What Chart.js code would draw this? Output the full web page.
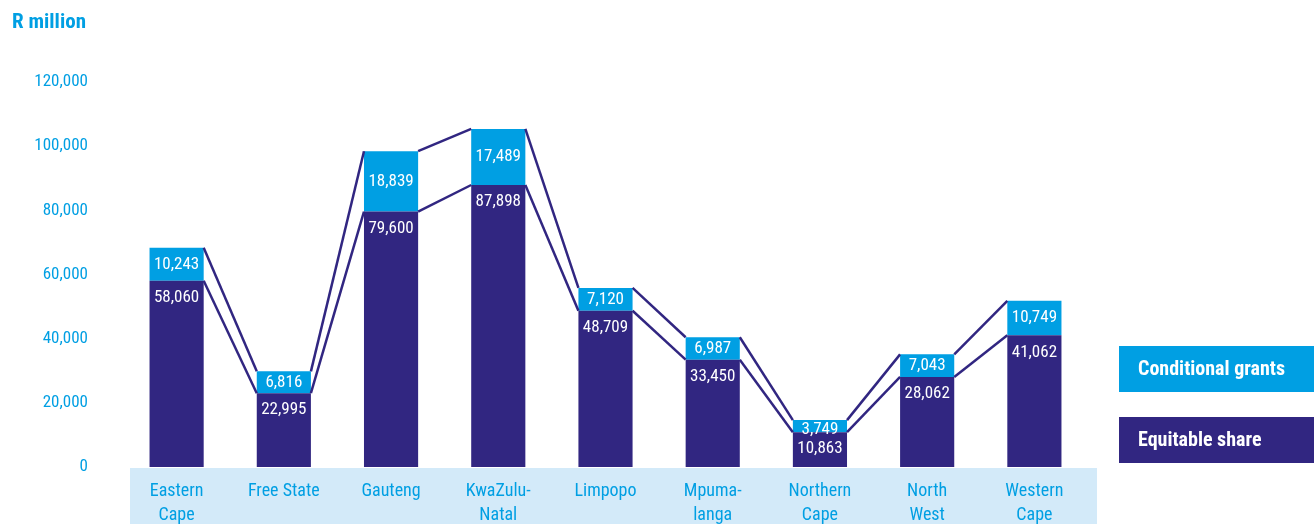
<!DOCTYPE html>
<html>
<head>
<meta charset="utf-8">
<script src="https://cdn.jsdelivr.net/npm/chart.js@4.4.0/dist/chart.umd.min.js"></script>
<style>
  html, body { margin: 0; padding: 0; background: #fff; }
  #wrap { width: 1314px; height: 524px; position: relative; }
</style>
</head>
<body>
<div id="wrap"><canvas id="provChart" width="1314" height="524"></canvas></div>
<script>
// data (R million)
const provinces = [['Eastern', 'Cape'], 'Free State', 'Gauteng', ['KwaZulu-', 'Natal'], 'Limpopo',
    ['Mpuma-', 'langa'], ['Northern', 'Cape'], ['North', 'West'], ['Western', 'Cape']];
const equitableShare = [58060, 22995, 79600, 87898, 48709, 33450, 10863, 28062, 41062];
const conditionalGrants = [10243, 6816, 18839, 17489, 7120, 6987, 3749, 7043, 10749];
const yTicks = [0, 20000, 40000, 60000, 80000, 100000, 120000];

const DARK = '#312681';
const LIGHT = '#009fe3';
const BAND = '#d3eaf9';
const FONT = "'Liberation Sans Narrow', 'Roboto Condensed', 'Roboto', sans-serif";

const fmt = v => v.toLocaleString('en-US');

// light blue band behind category labels + "R million" title
const backdrop = {
    id: 'backdrop',
    beforeDraw(chart) {
        const { ctx, chartArea } = chart;
        ctx.save();
        ctx.fillStyle = BAND;
        ctx.fillRect(130, chartArea.bottom + 1, 967, chart.height - chartArea.bottom);
        ctx.fillStyle = LIGHT;
        ctx.font = 'bold 21px ' + FONT;
        ctx.textBaseline = 'middle';
        ctx.fillText('R million', 12, 23);
        ctx.restore();
    }
};

// connecting lines between bar tops, value labels and legend boxes
const extras = {
    id: 'extras',
    afterDatasetsDraw(chart) {
        const { ctx } = chart;
        const eq = chart.getDatasetMeta(0).data;
        const cg = chart.getDatasetMeta(1).data;
        ctx.save();
        ctx.strokeStyle = DARK;
        ctx.lineWidth = 2.5;
        [cg, eq].forEach(bars => {
            for (let i = 0; i < bars.length - 1; i++) {
                const a = bars[i], b = bars[i + 1];
                ctx.beginPath();
                ctx.moveTo(a.x + a.width / 2, a.y);
                ctx.lineTo(b.x - b.width / 2, b.y);
                ctx.stroke();
            }
        });

        ctx.fillStyle = '#fff';
        ctx.font = '17px ' + FONT;
        ctx.textAlign = 'center';
        ctx.textBaseline = 'middle';
        cg.forEach((bar, i) => {
            ctx.fillText(fmt(conditionalGrants[i]), bar.x, Math.max((bar.y + bar.base) / 2, bar.y + 10));
        });
        eq.forEach((bar, i) => {
            ctx.fillText(fmt(equitableShare[i]), bar.x, bar.y + 17);
        });

        // legend
        const items = [['Conditional grants', LIGHT, 346], ['Equitable share', DARK, 417]];
        ctx.textAlign = 'left';
        ctx.font = 'bold 20px ' + FONT;
        items.forEach(([label, col, y]) => {
            ctx.fillStyle = col;
            ctx.fillRect(1119, y, 195, 46);
            ctx.fillStyle = '#fff';
            ctx.fillText(label, 1138, y + 24);
        });
        ctx.restore();
    }
};

new Chart(document.getElementById('provChart').getContext('2d'), {
    type: 'bar',
    data: {
        labels: provinces,
        datasets: [
            { label: 'Equitable share', data: equitableShare, backgroundColor: DARK, borderWidth: 0 },
            { label: 'Conditional grants', data: conditionalGrants, backgroundColor: LIGHT, borderWidth: 0 }
        ]
    },
    options: {
        responsive: false,
        animation: false,
        layout: { padding: { top: 82, right: 226, bottom: 0, left: 0 } },
        datasets: { bar: { categoryPercentage: 1, barPercentage: 0.505 } },
        plugins: { legend: { display: false }, tooltip: { enabled: false } },
        scales: {
            x: {
                stacked: true,
                grid: { display: false, drawTicks: false },
                border: { display: false },
                ticks: { color: LIGHT, font: { family: FONT, size: 18, lineHeight: 1.3 }, padding: 13, maxRotation: 0 },
                afterFit: s => { s.height = 57; }
            },
            y: {
                stacked: true,
                min: 0,
                max: 120000,
                afterBuildTicks: s => { s.ticks = yTicks.map(v => ({ value: v })); },
                grid: { display: false, drawTicks: false },
                border: { display: false },
                ticks: { color: LIGHT, font: { family: FONT, size: 17 }, padding: 35, callback: v => fmt(v) },
                afterFit: s => { s.width = 123; }
            }
        }
    },
    plugins: [backdrop, extras]
});
</script>
</body>
</html>
